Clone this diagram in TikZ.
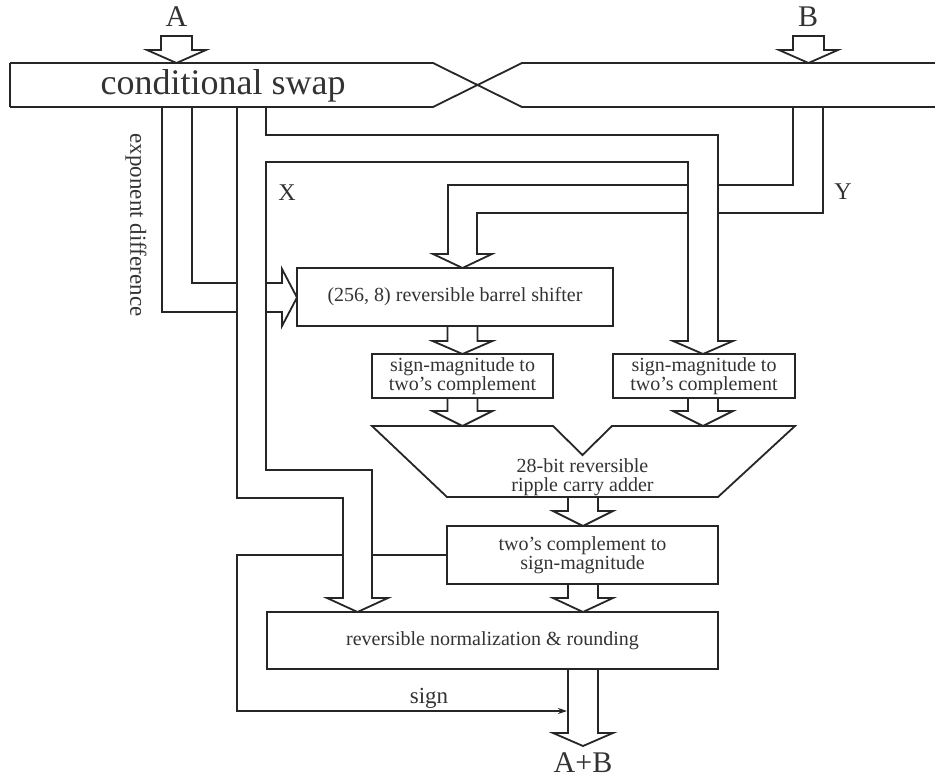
\documentclass[tikz,border=0pt]{standalone}
\usepackage{fontspec}
\setmainfont{Liberation Serif}
\usetikzlibrary{arrows.meta}
\newcommand\busarrow[4]{\draw ({#1-15},#2) -- ({#1-15},#3) -- ({#1-30},#3) -- (#1,#4) -- ({#1+30},#3) -- ({#1+15},#3) -- ({#1+15},#2);}
\tikzset{
  wire/.style={line width=1.8pt, color=black!85, line join=miter},
  box/.style={wire, draw, rectangle, inner sep=0pt, align=center, font=\fontsize{20}{17}\selectfont, text=black!80},
  lbl/.style={inner sep=0pt, text=black!80},
}
\begin{document}
\begin{tikzpicture}[x=1pt, y=-1pt, every path/.style={wire}]
\fill[white] (0,0) rectangle (935,778);
\useasboundingbox (0,0) rectangle (935,778);
% conditional swap band
\draw (10,63) -- (433,63) -- (522,107) -- (935,107);
\draw (10,107) -- (433,107) -- (522,63) -- (935,63);
\draw (10,63) -- (10,107);
\node[lbl, font=\fontsize{36}{40}\selectfont] (swaptxt) at (223,86) {conditional swap};
% inputs A and B
\node[lbl, font=\fontsize{30}{34}\selectfont] (la) at (176.5,17) {A};
\node[lbl, font=\fontsize{30}{34}\selectfont] (lb) at (808,17) {B};
\draw (161,36) -- (192,36) -- (192,50) -- (206,50) -- (176.5,63) -- (147,50) -- (161,50) -- cycle;
\draw (793,36) -- (824,36) -- (824,50) -- (838,50) -- (808.5,63) -- (779,50) -- (793,50) -- cycle;
% boxes
\node[box, minimum width=316pt, minimum height=58pt] (bs) at (455,297) {(256, 8) reversible barrel shifter};
\node[box, minimum width=181pt, minimum height=44pt] (sm1) at (462.5,376) {sign-magnitude to\\two's complement};
\node[box, minimum width=182pt, minimum height=44pt] (sm2) at (704,376) {sign-magnitude to\\two's complement};
\node[box, minimum width=271pt, minimum height=58pt] (tc) at (582.5,555) {two's complement to\\sign-magnitude};
\node[box, minimum width=451pt, minimum height=57pt] (nr) at (492.5,640.5) {reversible normalization \& rounding};
% adder
\draw (372,426) -- (553,426) -- (582.5,455) -- (612,426) -- (795,426) -- (718,497) -- (447,497) -- cycle;
\node[lbl, align=center, font=\fontsize{20}{18.5}\selectfont] (addtxt) at (582.5,477) {28-bit reversible\\ripple carry adder};
% exponent difference bus
\draw (162,107) -- (162,312) -- (237,312);
\draw (192,107) -- (192,283) -- (237,283);
\draw (266,283) -- (282,283) -- (282,269) -- (297,297.5) -- (282,326) -- (282,312) -- (266,312);
\node[lbl, rotate=-90, font=\fontsize{23}{26}\selectfont] (ed) at (136,225) {exponent difference};
% X bus
\draw (237,107) -- (237,498) -- (343,498) -- (343,598) -- (327,598) -- (357.5,612) -- (388,598) -- (372,598) -- (372,470) -- (266,470) -- (266,162) -- (688,162) -- (688,341) -- (673,341) -- (703,354) -- (733,341) -- (718,341) -- (718,135) -- (266,135) -- (266,107);
\node[lbl, font=\fontsize{24}{28}\selectfont] (lx) at (287,193) {X};
% Y bus
\draw (793,107) -- (793,185) -- (718,185);
\draw (823,107) -- (823,213) -- (718,213);
\draw (688,185) -- (448,185) -- (448,254) -- (433,254) -- (462.5,268) -- (492,254) -- (477,254) -- (477,213) -- (688,213);
\node[lbl, font=\fontsize{24}{28}\selectfont] (ly) at (843,192) {Y};
% block arrows between stages
\busarrow{462.5}{326}{341}{354}
\busarrow{462.5}{398}{411}{426}
\busarrow{703}{398}{411}{426}
\busarrow{583}{497}{511}{526}
\busarrow{583}{584}{598}{612}
\busarrow{583}{669}{733}{746}
\node[lbl, font=\fontsize{30}{34}\selectfont] (lab) at (583,763) {A+B};
% sign line
\draw (tc.west) -- (372,555);
\draw[line width=1.5pt, -{Stealth[length=9pt,width=6pt]}] (343,555) -- (237,555) -- (237,711) -- (567,711);
\node[lbl, anchor=base, font=\fontsize{23}{26}\selectfont] (sg) at (429,703) {sign};
\end{tikzpicture}
\end{document}
